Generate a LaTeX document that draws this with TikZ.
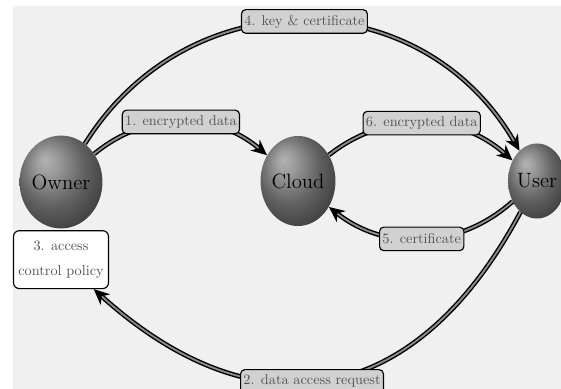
\documentclass[tikz,border=0pt]{standalone}
\usetikzlibrary{arrows.meta,positioning,shapes.geometric}
\pgfdeclareradialshading{orb}{\pgfpoint{-10bp}{12bp}}{color(0bp)=(black!30); color(6bp)=(black!38); color(20bp)=(black!62); color(36bp)=(black!80); color(50bp)=(black!92)}
\begin{document}
\begin{tikzpicture}[x=0.7pt,y=0.7pt,
    orb/.style={ellipse,shade,shading=orb,inner sep=0pt,font=\fontsize{14.5}{17}\selectfont},
    lbl/.style={draw,thick,rounded corners=3pt,fill=black!18,text=black!68,inner sep=2pt,minimum height=16.5pt},
    flow/.style={line width=1pt,double=black!45,double distance=1.3pt,-{Stealth[length=11pt,width=10pt]}}]
  \useasboundingbox (0,0) rectangle (561,-389);
  \fill[black!6] (13,-6) rectangle (561,-389);
  \node[orb,minimum width=50pt,minimum height=65pt] (owner) at (61,-182) {Owner};
  \node[orb,minimum width=47.5pt,minimum height=63pt] (cloud) at (298,-181) {Cloud};
  \node[orb,minimum width=40.5pt,minimum height=52.5pt] (user) at (537,-181) {User};
  \node[draw,thick,rounded corners=4pt,fill=white,align=center,text=black!68,
        minimum width=66pt,minimum height=40.5pt,below=1pt of owner] (policy) {3. access\\[5pt]control policy};
  \draw[flow] (owner) to[bend left=40] node[lbl] {1. encrypted data} (cloud);
  \draw[flow] (owner) to[out=58,in=120,looseness=1.15] node[lbl] {4. key \& certificate} (user);
  \draw[flow] (cloud) to[bend left=40] node[lbl] {6. encrypted data} (user);
  \draw[flow] (user) to[bend left=40] node[lbl] {5. certificate} (cloud);
  \draw[flow] (user) to[out=-118,in=-42,looseness=1.3] node[lbl,pos=0.54] {2. data access request} (policy);
\end{tikzpicture}
\end{document}
